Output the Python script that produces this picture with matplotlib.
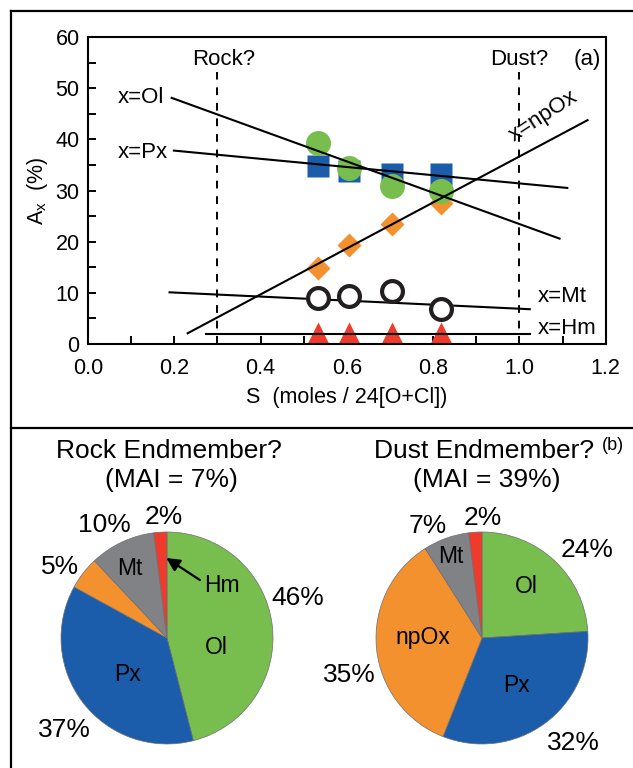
import numpy as np
import matplotlib.pyplot as plt
from matplotlib.lines import Line2D
from matplotlib.ticker import MultipleLocator, FormatStrFormatter

plt.rcParams['font.family'] = ['Liberation Sans', 'DejaVu Sans']

# --- data: panel (a) ---
s_obs = [0.534, 0.606, 0.704, 0.819]
ol_obs = [39.2, 34.3, 30.9, 29.9]
px_obs = [34.8, 33.8, 33.3, 33.2]
npox_obs = [14.9, 19.3, 23.4, 27.5]
mt_obs = [8.9, 9.4, 10.4, 6.8]
hm_obs = [2.2, 2.2, 2.2, 2.2]

# fitted lines (end points)
ol_fit_s, ol_fit = [0.194, 1.093], [48.1, 20.6]
px_fit_s, px_fit = [0.199, 1.111], [37.8, 30.5]
npox_fit_s, npox_fit = [0.231, 1.158], [2.1, 43.75]
mt_fit_s, mt_fit = [0.189, 1.024], [10.1, 6.8]
hm_fit_s, hm_fit = [0.273, 1.024], [1.9, 1.9]

rock_s = 0.30
dust_s = 1.00

# --- data: panel (b) ---
pie_labels = ['Ol', 'Px', 'npOx', 'Mt', 'Hm']
rock_pct = [46, 37, 5, 10, 2]
dust_pct = [24, 32, 35, 7, 2]
rock_mai = 7
dust_mai = 39

c_green = '#78be4f'
c_blue = '#1b5daa'
c_orange = '#f4912f'
c_gray = '#808285'
c_red = '#ef3b2c'
pie_colors = [c_green, c_blue, c_orange, c_gray, c_red]

fig = plt.figure(figsize=(6.33, 7.68), dpi=100)

# frame lines around the panels
W, H = 633.0, 768.0
for (x0, y0, x1, y1) in [(11, 11, 633, 11), (11, 11, 11, 768), (11, 428, 633, 428)]:
    fig.add_artist(Line2D([x0 / W, x1 / W], [1 - y0 / H, 1 - y1 / H],
                          color='black', lw=1.6, transform=fig.transFigure))

# ---------------- panel (a) ----------------
ax = fig.add_axes([88 / W, 1 - 344 / H, (605.7 - 88) / W, (344 - 37) / H])
ax.set_xlim(0, 1.2)
ax.set_ylim(0, 60)

ax.plot(s_obs, npox_obs, 'D', color=c_orange, ms=12.2, mec='none', zorder=2)
ax.plot(s_obs, px_obs, 's', color=c_blue, ms=16, mec='none', zorder=2)
ax.plot(s_obs, ol_obs, 'o', color=c_green, ms=18, mec='none', zorder=2)
ax.plot(s_obs, hm_obs, '^', color=c_red, ms=16, mec='none', zorder=2)

for xs, ys in [(ol_fit_s, ol_fit), (px_fit_s, px_fit), (npox_fit_s, npox_fit),
               (mt_fit_s, mt_fit), (hm_fit_s, hm_fit)]:
    ax.plot(xs, ys, color='black', lw=1.5, zorder=3)

ax.plot(s_obs, mt_obs, 'o', mfc='white', mec='#231f20', mew=3, ms=15, zorder=4)

for sx in [rock_s, dust_s]:
    ax.plot([sx, sx], [0, 53.2], color='black', lw=1.4, dashes=(4, 4), zorder=1)

fs_ann = 16
ax.text(0.314, 55.6, 'Rock?', fontsize=fs_ann, ha='center', va='center')
ax.text(1.0, 55.6, 'Dust?', fontsize=fs_ann, ha='center', va='center')
ax.text(1.158, 55.7, '(a)', fontsize=fs_ann, ha='center', va='center')
ax.text(0.177, 48.2, 'x=Ol', fontsize=fs_ann, ha='right', va='center')
ax.text(0.186, 37.4, 'x=Px', fontsize=fs_ann, ha='right', va='center')
ax.text(1.042, 9.2, 'x=Mt', fontsize=fs_ann, ha='left', va='center')
ax.text(1.042, 3.1, 'x=Hm', fontsize=fs_ann, ha='left', va='center')
ax.text(1.055, 44.5, 'x=npOx', fontsize=fs_ann, ha='center', va='center',
        rotation=33, rotation_mode='anchor')

ax.xaxis.set_major_locator(MultipleLocator(0.2))
ax.xaxis.set_minor_locator(MultipleLocator(0.1))
ax.xaxis.set_major_formatter(FormatStrFormatter('%.1f'))
ax.yaxis.set_major_locator(MultipleLocator(10))
ax.yaxis.set_minor_locator(MultipleLocator(5))
ax.tick_params(which='both', direction='in', length=5.8, width=1.4,
               labelsize=15.5, top=False, right=False)
ax.tick_params(axis='x', pad=10)
ax.tick_params(axis='y', pad=6)
for sp in ax.spines.values():
    sp.set_linewidth(1.5)

ax.set_xlabel('S  (moles / 24[O+Cl])', fontsize=15.5, labelpad=6)
ax.set_ylabel(r'A$_\mathregular{x}$  (%)', fontsize=15.5, labelpad=4)

# ---------------- panel (b) ----------------
R = 106.0


def draw_pie(cx, pct, pct_shift, pct_rad, in_shift, in_rad):
    pax = fig.add_axes([(cx - R) / W, 1 - (638 + R) / H, 2 * R / W, 2 * R / H])
    wedges, _ = pax.pie(pct, colors=pie_colors, startangle=90, counterclock=False,
                        radius=1, wedgeprops=dict(edgecolor='#6d6e71', linewidth=0.5))
    pax.set_xlim(-1, 1)
    pax.set_ylim(-1, 1)
    pax.axis('off')
    for w, p, lab, ds, r, di, ri in zip(wedges, pct, pie_labels, pct_shift, pct_rad,
                                         in_shift, in_rad):
        mid = np.deg2rad((w.theta1 + w.theta2) / 2 + ds)
        pax.text(r * np.cos(mid), r * np.sin(mid), f'{p}%', fontsize=19,
                 ha='center', va='center', clip_on=False)
        if ri is not None:
            a = np.deg2rad((w.theta1 + w.theta2) / 2 + di)
            pax.text(ri * np.cos(a), ri * np.sin(a), lab, fontsize=16.5,
                     ha='center', va='center', clip_on=False)
    return pax, wedges


rock_ax, rock_w = draw_pie(167, rock_pct,
                           [10, 4, 4, 4, -2], [1.29, 1.30, 1.21, 1.22, 1.14],
                           [-18, 5, 0, 3, 0], [0.47, 0.51, None, 0.74, None])
dust_ax, dust_w = draw_pie(482, dust_pct,
                           [-7, 5, 10, 6, -4], [1.29, 1.31, 1.30, 1.17, 1.13],
                           [2, 0, -6, 1, 0], [0.64, 0.55, 0.56, 0.82, None])

# Hm arrow on rock pie
hm_w = rock_w[-1]
tip_a = np.deg2rad(min(hm_w.theta1, hm_w.theta2) % 360 + 0.5)
tip = (0.755 * np.cos(tip_a), 0.755 * np.sin(tip_a))
rock_ax.annotate('', xy=tip, xytext=(0.31, 0.547),
                 arrowprops=dict(arrowstyle='-|>', color='black', lw=1.6,
                                 mutation_scale=20, shrinkA=0, shrinkB=0))
rock_ax.text(0.52, 0.50, 'Hm', fontsize=16.5, ha='center', va='center')

fig.text(168.5 / W, 1 - 450.7 / H, 'Rock Endmember?', fontsize=19, ha='center', va='center')
fig.text(171 / W, 1 - 480 / H, f'(MAI = {rock_mai}%)', fontsize=19, ha='center', va='center')
fig.text(484.5 / W, 1 - 450.7 / H, 'Dust Endmember?', fontsize=19, ha='center', va='center')
fig.text(486.4 / W, 1 - 480 / H, f'(MAI = {dust_mai}%)', fontsize=19, ha='center', va='center')
fig.text(612.7 / W, 1 - 445 / H, '(b)', fontsize=13, ha='center', va='center')

fig.savefig('out.png', dpi=100)
